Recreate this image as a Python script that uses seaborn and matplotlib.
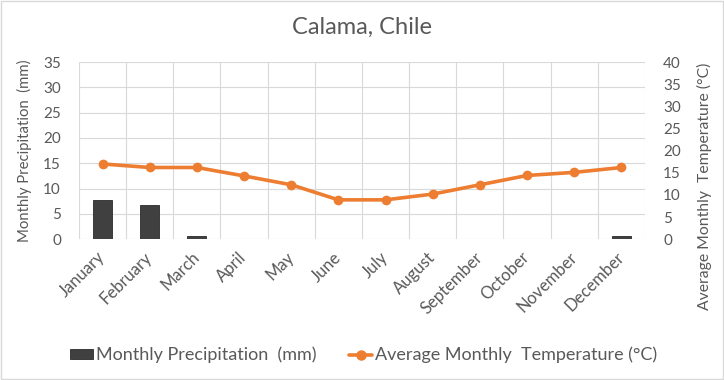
import pandas as pd
import seaborn as sns
import matplotlib.pyplot as plt
from matplotlib.patches import Patch
from matplotlib.lines import Line2D

months = ["January", "February", "March", "April", "May", "June",
          "July", "August", "September", "October", "November", "December"]
precip_mm = [7.8, 6.8, 0.6, 0, 0, 0, 0, 0, 0, 0, 0, 0.6]
temp_c = [17.0, 16.2, 16.2, 14.3, 12.3, 8.9, 8.9, 10.2, 12.3, 14.4, 15.1, 16.2]

df = pd.DataFrame({"month": months, "precip": precip_mm, "temp": temp_c})

sns.set_style("white")
plt.rcParams["font.family"] = ["Lato", "DejaVu Sans"]
txt = "#595959"
bar_col = "#404040"
line_col = "#ED7D31"
grid_col = "#d9d9d9"

fig = plt.figure(figsize=(7.24, 3.8), dpi=100)
# plot area in pixels: x 79..645, y 62..239
ax = fig.add_axes([79 / 724, 1 - 239.3 / 380, 566 / 724, 177.3 / 380])

sns.barplot(data=df, x="month", y="precip", color=bar_col, width=0.4,
            saturation=1, ax=ax, zorder=2, edgecolor="#2b2b2b", linewidth=0.6)
ax.set_ylim(0, 35)
ax.set_yticks(range(0, 36, 5))
ax.set_xlim(-0.5, 11.5)
ax.set_xticks(range(12))
ax.set_xticklabels(months, rotation=45, ha="right", va="center",
                   rotation_mode="anchor", fontsize=12, color=txt)
ax.tick_params(axis="x", length=0, pad=11)
ax.tick_params(axis="y", length=0, labelsize=11, labelcolor=txt, pad=13)
# grid: horizontal at ticks, vertical at category boundaries
for v in [i + 0.5 for i in range(-1, 12)]:
    ax.axvline(v, color=grid_col, lw=0.8, zorder=0)
ax.yaxis.grid(True, color=grid_col, lw=0.8, zorder=0)
ax.set_axisbelow(True)
for s in ax.spines.values():
    s.set_visible(False)
ax.set_xlabel("")
ax.set_ylabel("Monthly Precipitation  (mm)", fontsize=10.7, color=txt)
ax.yaxis.set_label_coords(-0.083, 0.5)

ax2 = ax.twinx()
sns.lineplot(data=df, x="month", y="temp", color=line_col, lw=2.6,
             marker="o", markersize=7, markeredgewidth=0, ax=ax2,
             sort=False, zorder=3)
ax2.set_ylim(0, 40)
ax2.set_yticks(range(0, 41, 5))
ax2.tick_params(axis="y", length=0, labelsize=11, labelcolor=txt, pad=13)
for s in ax2.spines.values():
    s.set_visible(False)
ax2.set_xlim(-0.5, 11.5)
ax2.set_xlabel("")
ax2.set_ylabel("Average Monthly  Temperature (°C)", fontsize=11.3, color=txt)
ax2.yaxis.set_label_coords(1.092, 0.3)

fig.text(0.5, 1 - 27 / 380, "Calama, Chile", ha="center", va="center",
         fontsize=17, color=txt)

handles = [Patch(facecolor=bar_col, edgecolor="#2b2b2b", lw=0.6),
           Line2D([0], [0], color=line_col, lw=2.6, marker="o", markersize=6.5)]
fig.legend(handles, ["Monthly Precipitation  (mm)", "Average Monthly  Temperature (°C)"],
           loc="center", bbox_to_anchor=(363.5 / 724, 1 - 355 / 380), ncol=2,
           frameon=False, fontsize=13, labelcolor=txt, handlelength=1.3,
           handleheight=0.5, handletextpad=0.15, columnspacing=1.8)

fig.patches.append(plt.Rectangle((0.001, 0.002), 0.997, 0.995,
                                 transform=fig.transFigure, fill=False,
                                 edgecolor=grid_col, lw=1))

fig.savefig("out.png", dpi=100)
